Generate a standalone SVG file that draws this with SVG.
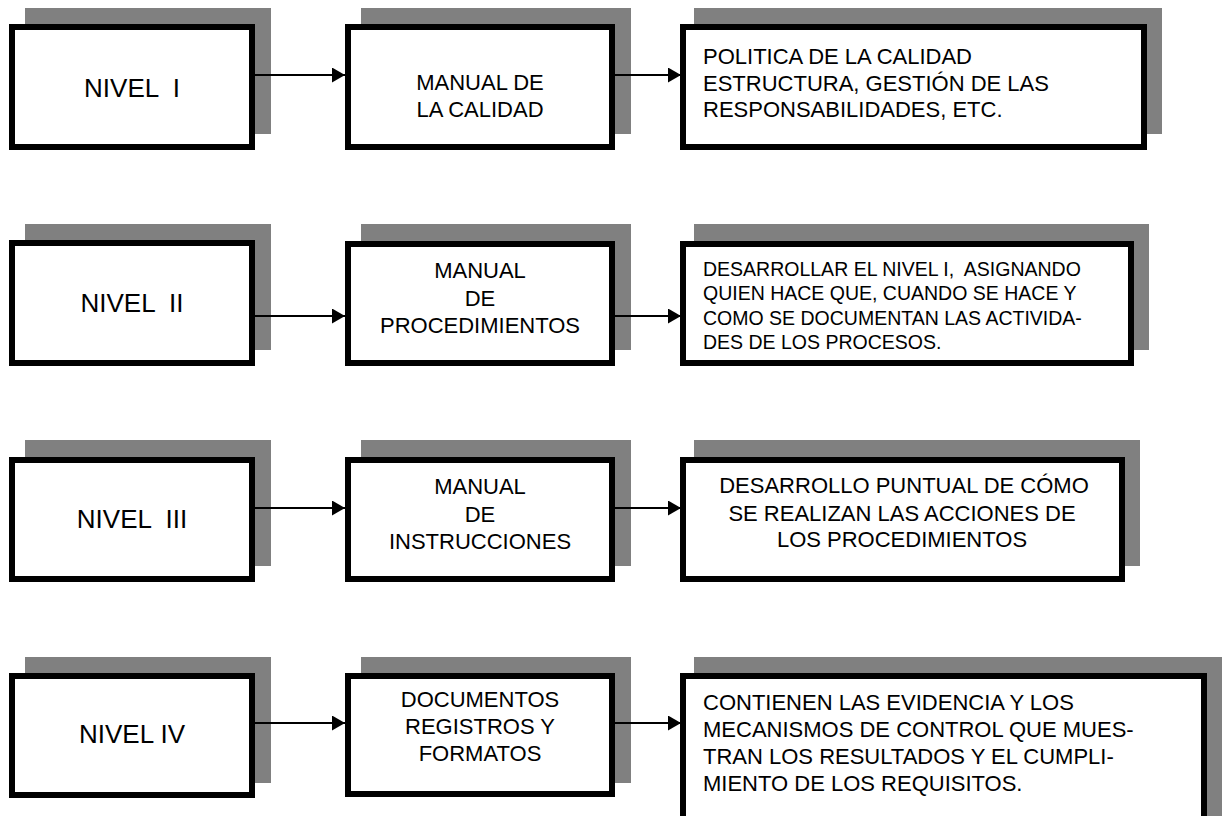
<svg xmlns="http://www.w3.org/2000/svg" width="1230" height="816" viewBox="0 0 1230 816">
<style>
.sh{fill:#808080}
.bx{fill:#fff;stroke:#000;stroke-width:6}
text{font-family:"Liberation Sans",Arial,sans-serif;fill:#000}
.nv{font-size:26px;text-anchor:middle}
.md{font-size:22px;text-anchor:middle}
.lf{font-size:22px}
.sm{font-size:19.5px}
.cn{stroke:#000;stroke-width:2;fill:none}
</style>
<defs>
<marker id="ah" markerUnits="userSpaceOnUse" markerWidth="13" markerHeight="15" refX="13" refY="7.5" orient="auto">
<path d="M0,0 L13,7.5 L0,15 Z" fill="#000"/>
</marker>
</defs>
<rect width="1230" height="816" fill="#fff"/>

<g id="n1a">
<rect class="sh" x="25" y="8" width="246" height="126"/>
<rect class="bx" x="12" y="27" width="240" height="120"/>
<text class="nv" x="132" y="97" xml:space="preserve">NIVEL  I</text>
</g>
<g id="n1b">
<rect class="sh" x="361" y="8" width="270" height="126"/>
<rect class="bx" x="348" y="27" width="264" height="120"/>
<text class="md" x="480" y="90">MANUAL DE</text>
<text class="md" x="480" y="117">LA CALIDAD</text>
</g>
<g id="n1c">
<rect class="sh" x="694" y="8" width="468" height="126"/>
<rect class="bx" x="683" y="27" width="461" height="120"/>
<text class="lf" x="703" y="64">POLITICA DE LA CALIDAD</text>
<text class="lf" x="703" y="91">ESTRUCTURA, GESTIÓN DE LAS</text>
<text class="lf" x="703" y="117">RESPONSABILIDADES, ETC.</text>
</g>

<g id="n2a">
<rect class="sh" x="25" y="224" width="246" height="126"/>
<rect class="bx" x="12" y="243" width="240" height="120"/>
<text class="nv" x="132" y="312" xml:space="preserve">NIVEL  II</text>
</g>
<g id="n2b">
<rect class="sh" x="361" y="224" width="270" height="126"/>
<rect class="bx" x="348" y="244" width="264" height="119"/>
<text class="md" x="480" y="278">MANUAL</text>
<text class="md" x="480" y="306">DE</text>
<text class="md" x="480" y="333">PROCEDIMIENTOS</text>
</g>
<g id="n2c">
<rect class="sh" x="694" y="224" width="455" height="126"/>
<rect class="bx" x="683" y="244" width="448" height="119"/>
<text class="sm" x="703" y="276" xml:space="preserve">DESARROLLAR EL NIVEL I,  ASIGNANDO</text>
<text class="sm" x="703" y="300">QUIEN HACE QUE, CUANDO SE HACE Y</text>
<text class="sm" x="703" y="325">COMO SE DOCUMENTAN LAS ACTIVIDA-</text>
<text class="sm" x="703" y="349">DES DE LOS PROCESOS.</text>
</g>

<g id="n3a">
<rect class="sh" x="25" y="440" width="246" height="126"/>
<rect class="bx" x="12" y="460" width="240" height="119"/>
<text class="nv" x="132" y="528" xml:space="preserve">NIVEL  III</text>
</g>
<g id="n3b">
<rect class="sh" x="361" y="440" width="270" height="126"/>
<rect class="bx" x="348" y="460" width="264" height="119"/>
<text class="md" x="480" y="494">MANUAL</text>
<text class="md" x="480" y="522">DE</text>
<text class="md" x="480" y="549">INSTRUCCIONES</text>
</g>
<g id="n3c">
<rect class="sh" x="694" y="440" width="446" height="126"/>
<rect class="bx" x="683" y="460" width="439" height="119"/>
<text class="md" x="904" y="493">DESARROLLO PUNTUAL DE CÓMO</text>
<text class="md" x="902" y="521">SE REALIZAN LAS ACCIONES DE</text>
<text class="md" x="902" y="547">LOS PROCEDIMIENTOS</text>
</g>

<g id="n4a">
<rect class="sh" x="25" y="657" width="246" height="126"/>
<rect class="bx" x="12" y="676" width="240" height="119"/>
<text class="nv" x="132" y="743">NIVEL IV</text>
</g>
<g id="n4b">
<rect class="sh" x="361" y="657" width="270" height="126"/>
<rect class="bx" x="348" y="676" width="264" height="118"/>
<text class="md" x="480" y="707">DOCUMENTOS</text>
<text class="md" x="480" y="734">REGISTROS Y</text>
<text class="md" x="480" y="761">FORMATOS</text>
</g>
<g id="n4c">
<rect class="sh" x="694" y="657" width="528" height="170"/>
<rect class="bx" x="683" y="676" width="521" height="150"/>
<text class="lf" x="703" y="710">CONTIENEN LAS EVIDENCIA Y LOS</text>
<text class="lf" x="703" y="737">MECANISMOS DE CONTROL QUE MUES-</text>
<text class="lf" x="703" y="764">TRAN LOS RESULTADOS Y EL CUMPLI-</text>
<text class="lf" x="703" y="791">MIENTO DE LOS REQUISITOS.</text>
</g>

<g id="connectors">
<line class="cn" x1="255" y1="75" x2="345" y2="75" marker-end="url(#ah)"/>
<line class="cn" x1="615" y1="75" x2="681" y2="75" marker-end="url(#ah)"/>
<line class="cn" x1="255" y1="316" x2="345" y2="316" marker-end="url(#ah)"/>
<line class="cn" x1="615" y1="316" x2="681" y2="316" marker-end="url(#ah)"/>
<line class="cn" x1="255" y1="508" x2="345" y2="508" marker-end="url(#ah)"/>
<line class="cn" x1="615" y1="508" x2="681" y2="508" marker-end="url(#ah)"/>
<line class="cn" x1="255" y1="723" x2="345" y2="723" marker-end="url(#ah)"/>
<line class="cn" x1="615" y1="723" x2="681" y2="723" marker-end="url(#ah)"/>
</g>
</svg>
